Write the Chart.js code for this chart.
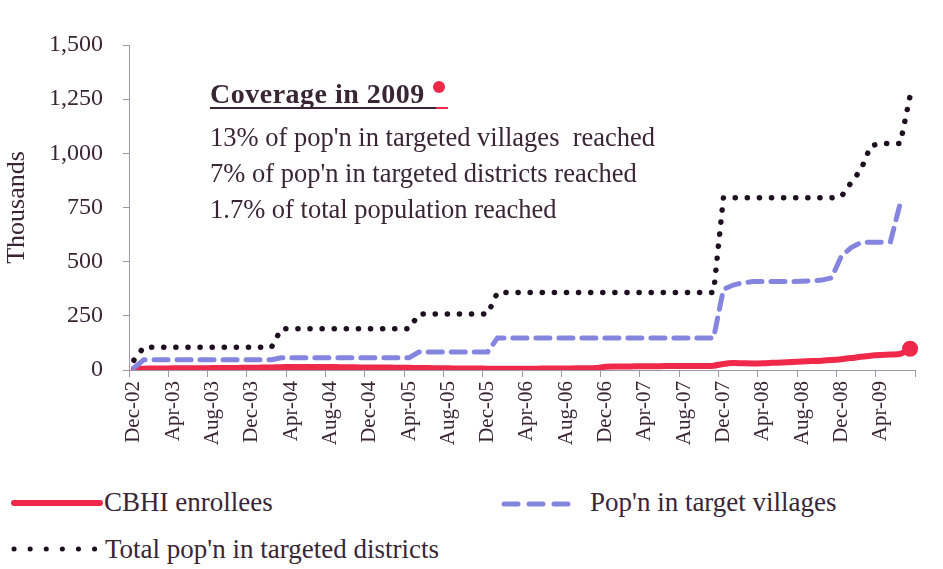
<!DOCTYPE html>
<html>
<head>
<meta charset="utf-8">
<script src="https://cdn.jsdelivr.net/npm/chart.js@4.4.1/dist/chart.umd.min.js"></script>
<style>
  body { margin: 0; background: #fff; }
  #wrap { position: relative; width: 943px; height: 569px; font-family: "Liberation Serif", "DejaVu Serif", serif; color: #3a2535; }
  #box { position: absolute; left: 0; top: 0; width: 943px; height: 470px; }
  .note { position: absolute; left: 210px; white-space: pre; }
  #head { top: 80px; width: 238px; font-size: 28px; line-height: 27px; font-weight: bold; letter-spacing: 0.5px; border-bottom: 2px solid #3a2535; }
  #head .dot { position: absolute; left: 223px; top: 1px; width: 12px; height: 12px; border-radius: 50%; background: #f0284a; }
  #head .tail { position: absolute; left: 226px; bottom: -2px; width: 12px; height: 2px; background: #f0284a; }
  #body { top: 119px; font-size: 26.5px; line-height: 36px; }
  .leg { position: absolute; font-size: 27px; line-height: 30px; white-space: nowrap; }
</style>
</head>
<body>
<div id="wrap">
  <div id="box"><canvas id="chart"></canvas></div>
  <div class="note" id="head">Coverage in 2009<span class="dot"></span><span class="tail"></span></div>
  <div class="note" id="body">13% of pop'n in targeted villages  reached
7% of pop'n in targeted districts reached
1.7% of total population reached</div>

  <svg style="position:absolute;left:10px;top:496px" width="95" height="14">
    <line x1="4" y1="7" x2="90" y2="7" stroke="#f0284a" stroke-width="6" stroke-linecap="round"/>
  </svg>
  <div class="leg" style="left:104px;top:487px">CBHI enrollees</div>

  <svg style="position:absolute;left:496px;top:498px" width="85" height="12">
    <line x1="8" y1="6" x2="80" y2="6" stroke="#8585e0" stroke-width="5" stroke-linecap="round" stroke-dasharray="14 11"/>
  </svg>
  <div class="leg" style="left:590px;top:487px">Pop'n in target villages</div>

  <svg style="position:absolute;left:8px;top:543px" width="95" height="12">
    <line x1="6" y1="6" x2="88" y2="6" stroke="#1e1020" stroke-width="5" stroke-linecap="round" stroke-dasharray="0.1 16"/>
  </svg>
  <div class="leg" style="left:105px;top:534px">Total pop'n in targeted districts</div>
</div>

<script>
// monthly categories, Dec-02 .. Jul-09
const months = [
    'Dec-02',
    'Jan-03', 'Feb-03', 'Mar-03', 'Apr-03', 'May-03', 'Jun-03', 'Jul-03', 'Aug-03', 'Sep-03', 'Oct-03', 'Nov-03', 'Dec-03',
    'Jan-04', 'Feb-04', 'Mar-04', 'Apr-04', 'May-04', 'Jun-04', 'Jul-04', 'Aug-04', 'Sep-04', 'Oct-04', 'Nov-04', 'Dec-04',
    'Jan-05', 'Feb-05', 'Mar-05', 'Apr-05', 'May-05', 'Jun-05', 'Jul-05', 'Aug-05', 'Sep-05', 'Oct-05', 'Nov-05', 'Dec-05',
    'Jan-06', 'Feb-06', 'Mar-06', 'Apr-06', 'May-06', 'Jun-06', 'Jul-06', 'Aug-06', 'Sep-06', 'Oct-06', 'Nov-06', 'Dec-06',
    'Jan-07', 'Feb-07', 'Mar-07', 'Apr-07', 'May-07', 'Jun-07', 'Jul-07', 'Aug-07', 'Sep-07', 'Oct-07', 'Nov-07', 'Dec-07',
    'Jan-08', 'Feb-08', 'Mar-08', 'Apr-08', 'May-08', 'Jun-08', 'Jul-08', 'Aug-08', 'Sep-08', 'Oct-08', 'Nov-08', 'Dec-08',
    'Jan-09', 'Feb-09', 'Mar-09', 'Apr-09', 'May-09', 'Jun-09', 'Jul-09'
];

// thousands of people
const cbhiEnrollees = [
    6, 6, 7, 7, 8, 8, 8, 8, 9, 9, 9, 10,
    10, 11, 12, 13, 14, 14, 14, 14, 14, 13, 13, 12, 12,
    11, 11, 10, 10, 9, 9, 8, 8, 7, 7, 7, 6,
    6, 6, 6, 6, 6, 7, 7, 7, 8, 8, 9,
    15, 16, 16, 17, 17, 17, 18, 18, 18, 19, 19, 20,
    28, 32, 31, 30, 31, 33, 35, 37, 39, 41, 43, 46,
    50, 55, 61, 66, 69, 71, 74, 98
];

const targetVillages = [
    10,
    47, 47, 47, 47, 47, 47, 47, 47, 47, 47, 47, 47, 47, 47,
    56, 56, 56, 56, 56, 56, 56, 56, 56, 56, 56, 56, 56, 56,
    83, 83, 83, 83, 83, 83, 83, 83,
    148, 148, 148, 148, 148, 148, 148, 148, 148, 148, 148, 148, 148, 148, 148, 148, 148, 148, 148, 148, 148, 148, 148,
    372, 392, 403, 408, 408, 408, 408, 408, 410, 412, 415, 425,
    525, 565, 588, 590, 590, 592, 770
];

const targetDistricts = [
    45,
    105, 105, 105, 105, 105, 105, 105, 105, 105, 105, 105, 105, 105, 105,
    190, 190, 190, 190, 190, 190, 190, 190, 190, 190, 190, 190, 190, 190,
    258, 258, 258, 258, 258, 258, 258, 258,
    358, 358, 358, 358, 358, 358, 358, 358, 358, 358, 358, 358, 358, 358, 358, 358, 358, 358, 358, 358, 358, 358, 358,
    795, 795, 795, 795, 795, 795, 795, 795, 795, 795, 795, 795, 800,
    865, 925, 1035, 1045, 1045, 1045, 1265
];

const yTicks = [0, 250, 500, 750, 1000, 1250, 1500];

const textColor = '#3a2535';
const axisColor = '#a096a6';
const serif = '"Liberation Serif", "DejaVu Serif", serif';

new Chart(document.getElementById('chart'), {
    type: 'line',
    data: {
        labels: months,
        datasets: [{
            label: 'Total pop\'n in targeted districts',
            data: targetDistricts,
            borderColor: '#1e1020',
            borderWidth: 5.5,
            borderDash: [0.1, 12],
            borderCapStyle: 'round',
            pointRadius: 0,
            tension: 0
        }, {
            label: 'Pop\'n in target villages',
            data: targetVillages,
            borderColor: '#8585e0',
            borderWidth: 5,
            borderDash: [14, 9],
            borderCapStyle: 'round',
            pointRadius: 0,
            tension: 0
        }, {
            label: 'CBHI enrollees',
            data: cbhiEnrollees,
            borderColor: '#f0284a',
            backgroundColor: '#f0284a',
            borderWidth: 6,
            borderCapStyle: 'round',
            pointRadius: (ctx) => ctx.dataIndex === cbhiEnrollees.length - 1 ? 8 : 0,
            pointBorderWidth: 0,
            tension: 0.3
        }]
    },
    options: {
        responsive: true,
        maintainAspectRatio: false,
        animation: false,
        layout: {
            padding: { top: 45, right: 28, left: 0, bottom: 0 }
        },
        scales: {
            x: {
                offset: true,
                grid: {
                    offset: true,
                    drawOnChartArea: false,
                    tickLength: 7,
                    color: (ctx) => (ctx.type !== 'tick' || ctx.index % 4 === 0) ? axisColor : 'rgba(0,0,0,0)'
                },
                border: { color: axisColor },
                ticks: {
                    autoSkip: false,
                    minRotation: 90,
                    maxRotation: 90,
                    padding: 4,
                    color: textColor,
                    font: { family: serif, size: 21 },
                    callback: function (value, index) {
                        return index % 4 === 0 ? this.getLabelForValue(value) : '';
                    }
                },
                afterFit: (scale) => { scale.height = 100; }
            },
            y: {
                min: 0,
                max: 1500,
                afterBuildTicks: (scale) => { scale.ticks = yTicks.map(v => ({ value: v })); },
                grid: {
                    drawOnChartArea: false,
                    tickLength: 6,
                    color: axisColor
                },
                border: { color: axisColor },
                ticks: {
                    padding: 20,
                    color: textColor,
                    font: { family: serif, size: 24 },
                    callback: (value) => value.toLocaleString('en-US')
                },
                title: {
                    display: true,
                    text: 'Thousands',
                    color: textColor,
                    font: { family: serif, size: 26 },
                    padding: { top: 2, bottom: 0 }
                },
                afterFit: (scale) => { scale.width = 129; }
            }
        },
        plugins: {
            legend: { display: false },
            tooltip: { enabled: false }
        }
    }
});
</script>
</body>
</html>
